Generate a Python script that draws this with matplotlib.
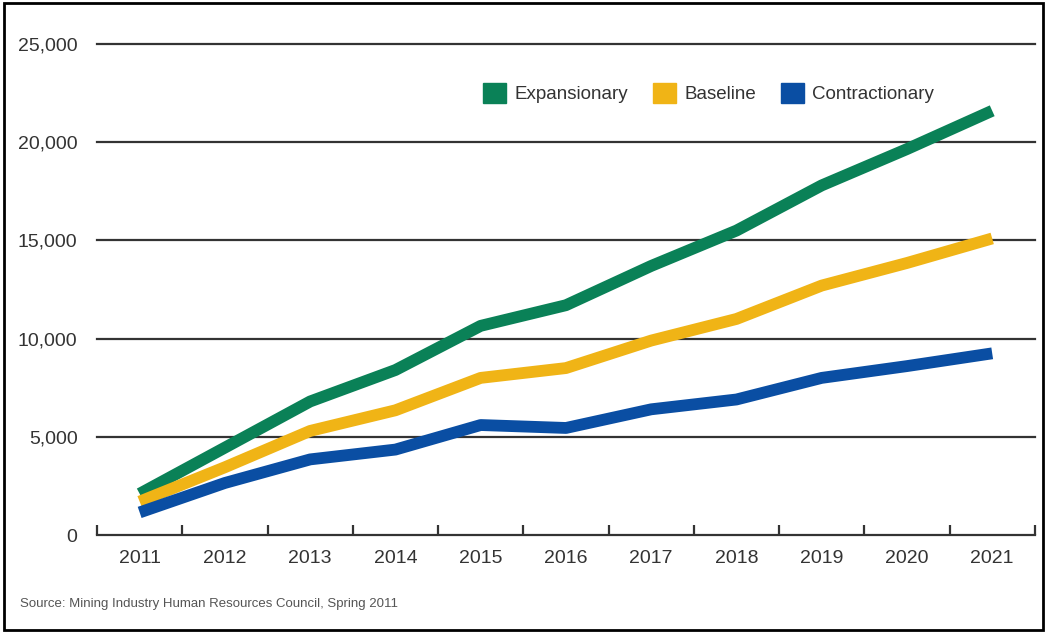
import matplotlib.pyplot as plt
from matplotlib.patches import Patch, Rectangle

years = ["2011", "2012", "2013", "2014", "2015", "2016", "2017", "2018", "2019", "2020", "2021"]
expansionary = [2100, 4450, 6800, 8400, 10650, 11700, 13700, 15500, 17800, 19650, 21600]
baseline = [1700, 3450, 5300, 6350, 8000, 8500, 9900, 11000, 12700, 13850, 15100]
contractionary = [1150, 2650, 3850, 4350, 5600, 5450, 6400, 6900, 8000, 8600, 9250]
y_ticks = [0, 5000, 10000, 15000, 20000, 25000]

plt.rcParams["font.family"] = ["Liberation Sans", "DejaVu Sans"]

fig = plt.figure(figsize=(10.49, 6.33), dpi=100)
ax = fig.add_axes([0.0925, 0.1548, 0.894, 0.7757])

x = list(range(len(years)))
ax.plot(x, expansionary, color="#0a8157", lw=8.5, solid_capstyle="butt", zorder=3)
ax.plot(x, baseline, color="#f0b416", lw=8.5, solid_capstyle="butt", zorder=3)
ax.plot(x, contractionary, color="#0a4ea3", lw=8.5, solid_capstyle="butt", zorder=3)

ax.set_xlim(-0.5, len(years) - 0.5)
ax.set_ylim(0, 25000)

# linhas de grade
for v in y_ticks[1:]:
    ax.axhline(v, color="#333333", lw=1.6, zorder=1, clip_on=False)

ax.set_yticks(y_ticks)
ax.set_yticklabels([f"{v:,}" for v in y_ticks], fontsize=14, color="#333333")
ax.set_xticks(x)
ax.set_xticklabels(years, fontsize=14, color="#333333")
ax.set_xticks([i - 0.5 for i in range(len(years) + 1)], minor=True)
ax.tick_params(axis="x", which="major", length=0, pad=11)
ax.tick_params(axis="x", which="minor", direction="in", length=7, width=1.6, color="#333333")
ax.tick_params(axis="y", length=0, pad=14)

for s in ["top", "right", "left"]:
    ax.spines[s].set_visible(False)
ax.spines["bottom"].set_color("#333333")
ax.spines["bottom"].set_linewidth(1.6)

handles = [Patch(color="#0a8157", label="Expansionary"),
           Patch(color="#f0b416", label="Baseline"),
           Patch(color="#0a4ea3", label="Contractionary")]
ax.legend(handles=handles, ncol=3, frameon=False, fontsize=13.5,
          loc="center", bbox_to_anchor=(0.652, 0.9),
          handlelength=1.25, handleheight=1.25, handletextpad=0.45, columnspacing=1.3,
          labelcolor="#333333")

fig.text(0.019, 0.041, "Source: Mining Industry Human Resources Council, Spring 2011",
         fontsize=9.5, color="#555555")

fig.patches.append(Rectangle((0.004, 0.005), 0.99, 0.99, transform=fig.transFigure,
                             fill=False, edgecolor="black", lw=2))

fig.savefig("out.png", dpi=100)
